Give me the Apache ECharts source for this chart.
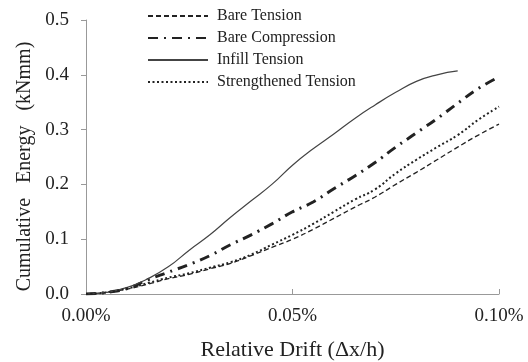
<!DOCTYPE html>
<html><head><meta charset="utf-8">
<script src="https://cdn.jsdelivr.net/npm/echarts@6/dist/echarts.min.js"></script>
<style>html,body{margin:0;padding:0;background:#fff}#c{width:528px;height:362px}</style>
</head><body><div id="c"></div>
<script>
const drift = [0,0.005,0.010,0.015,0.020,0.025,0.030,0.035,0.040,0.045,0.050,0.055,0.060,0.065,0.070,0.075,0.080,0.085,0.090,0.095,0.100];
const bareTension = [0,0.003,0.009,0.018,0.028,0.036,0.046,0.056,0.070,0.085,0.100,0.118,0.138,0.158,0.177,0.200,0.222,0.245,0.268,0.290,0.310];
const bareCompression = [0,0.003,0.010,0.026,0.040,0.054,0.070,0.090,0.108,0.128,0.150,0.168,0.192,0.215,0.240,0.268,0.294,0.320,0.348,0.375,0.396];
const infillDrift = [0,0.005,0.010,0.015,0.020,0.025,0.030,0.035,0.040,0.045,0.050,0.055,0.060,0.065,0.070,0.075,0.080,0.085,0.090];
const infillTension = [0,0.003,0.012,0.028,0.050,0.080,0.108,0.140,0.170,0.200,0.235,0.265,0.292,0.320,0.345,0.368,0.388,0.400,0.407];
const strengthenedTension = [0,0.003,0.010,0.020,0.030,0.038,0.048,0.058,0.072,0.090,0.108,0.128,0.150,0.172,0.191,0.220,0.245,0.268,0.290,0.318,0.342];
const yTicks = [0,0.1,0.2,0.3,0.4,0.5];
const names = ['Bare Tension','Bare Compression','Infill Tension','Strengthened Tension'];

const pair = (xs, ys) => xs.map((x,i)=>[x, ys[i]]);
const font = 'Liberation Serif';
const chart = echarts.init(document.getElementById('c'));
const mk = (i, xs, ys, ls) => ({
  name:names[i], type:'line', showSymbol:false, symbol:'none', smooth:true,
  data:pair(xs, ys), itemStyle:{color:'#222'}, lineStyle:ls
});
chart.setOption({
  animation:false,
  textStyle:{fontFamily:font},
  grid:{left:86,right:29,top:20,bottom:68,containLabel:false,outerBoundsMode:'none'},
  legend:{
    orient:'vertical', left:142, top:3, itemWidth:60, itemHeight:14, itemGap:6,
    itemStyle:{opacity:0},
    textStyle:{fontFamily:font,fontSize:16,color:'#222',padding:[0,0,0,4]},
    data:names
  },
  xAxis:{
    type:'value', min:0, max:0.1, interval:0.05,
    name:'Relative Drift (\u0394x/h)', nameLocation:'middle', nameGap:45,
    nameTextStyle:{fontFamily:font,fontSize:22,color:'#222'},
    axisLine:{lineStyle:{color:'#999'}},
    axisTick:{inside:true,length:5,lineStyle:{color:'#999'}},
    axisLabel:{fontFamily:font,fontSize:19,color:'#222',margin:13,formatter:v=>v.toFixed(2)+'%'},
    splitLine:{show:false}
  },
  yAxis:{
    type:'value', min:0, max:0.5, interval:0.1,
    name:'Cumulative   Energy   (kNmm)', nameLocation:'middle', nameGap:51,
    nameTextStyle:{fontFamily:font,fontSize:20,color:'#222',padding:[0,19,0,0]},
    axisLine:{show:true,lineStyle:{color:'#999'}},
    axisTick:{show:true,length:5,lineStyle:{color:'#999'}},
    axisLabel:{fontFamily:font,fontSize:19,color:'#222',margin:17,formatter:v=>v.toFixed(1)},
    splitLine:{show:false}
  },
  series:[
    mk(0, drift, bareTension, {color:'#222',width:1.3,type:[5,3]}),
    mk(1, drift, bareCompression, {color:'#222',width:3,type:[10,6,2,6]}),
    mk(2, infillDrift, infillTension, {color:'#444',width:1.2,type:'solid'}),
    mk(3, drift, strengthenedTension, {color:'#222',width:2,type:[2,2.5]})
  ]
});
</script></body></html>
